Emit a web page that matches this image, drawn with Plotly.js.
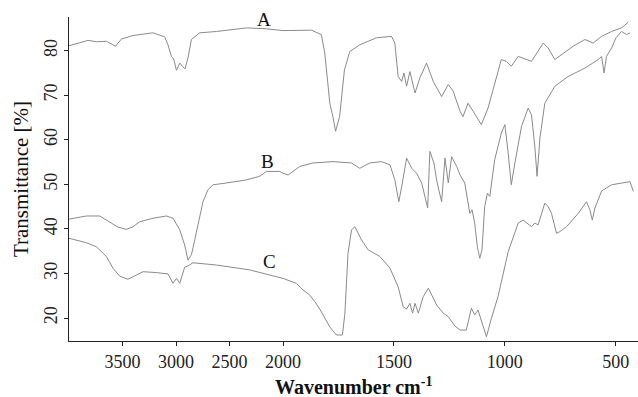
<!DOCTYPE html>
<html><head><meta charset="utf-8">
<script src="https://cdn.plot.ly/plotly-3.0.1.min.js"></script>
<style>html,body{margin:0;padding:0;background:#fff}#chart{width:638px;height:397px}</style>
</head><body><div id="chart"></div>
<script>
// Wavenumber (cm-1) and transmittance (%)
const aWn = [4000,3869,3822,3744,3650,3566,3510,3402,3215,3106,3075,3043,3021,2996,2965,2940,2916,2888,2856,2778,2622,2342,2155,2000,
  1872,1827,1812,1798,1789,1775,1763,1745,1723,1699,1654,1578,1511,1496,1481,1465,1455,1443,1428,1405,1383,1353,1323,1285,1255,1233,
  1202,1189,1166,1143,1106,1076,1053,1016,993,971,940,880,827,805,775,745,692,639,602,564,519,474,444];
const aT  = [81.1,81.9,82.3,82.0,82.1,81.0,82.6,83.4,84.0,83.1,81.3,78.7,78.1,75.6,77.2,76.5,75.9,78.4,82.5,84.0,84.3,85.1,84.9,84.5,
  84.6,83.6,79.5,72.7,68.2,65.2,61.9,65.2,75.7,79.8,81.3,82.9,83.2,81.7,74.2,73.1,75.0,72.0,75.3,70.5,73.9,77.2,73.1,69.7,72.4,70.9,
  66.4,65.2,68.2,66.4,63.4,67.1,71.2,78.0,77.6,76.5,78.7,77.6,81.7,80.6,78.0,79.1,81.0,82.5,81.7,83.2,84.3,85.1,86.4];

const bWn = [4000,3837,3713,3620,3542,3464,3402,3339,3215,3090,3028,2965,2919,2888,2856,2825,2778,2748,2701,2654,2529,2342,2218,2155,2031,2000,
  1977,1925,1865,1774,1691,1654,1609,1556,1518,1496,1478,1465,1443,1420,1398,1375,1348,1338,1320,1305,1285,1270,1255,1240,1217,1202,
  1181,1158,1148,1136,1124,1113,1103,1091,1079,1068,1046,1016,1000,985,971,955,925,895,880,865,855,842,820,775,715,639,579,564,553,
  542,519,499,474,451,436];
const bT  = [42.2,42.9,42.9,41.6,40.4,39.9,40.5,41.6,42.4,42.9,42.4,39.8,36.4,33.0,34.2,37.5,42.8,46.1,48.8,49.9,50.3,51.0,51.8,52.9,52.9,52.5,
  52.1,54.0,54.8,55.1,54.8,53.6,54.8,55.1,54.4,51.0,46.1,49.5,55.9,53.6,52.5,50.3,44.7,57.4,54.8,50.3,46.1,55.9,50.3,56.2,54.0,52.1,
  50.3,43.5,44.3,41.3,36.0,33.4,35.3,45.0,48.0,47.3,55.5,61.5,63.4,57.0,49.9,54.8,63.0,67.1,65.6,58.5,51.8,60.4,68.2,72.0,74.2,76.1,78.0,78.7,75.0,
  78.7,80.6,82.9,84.3,83.6,84.0];

const cWn = [4000,3837,3744,3650,3589,3526,3449,3402,3308,3183,3075,3028,2996,2965,2940,2919,2888,2841,2622,2311,2000,
  1940,1910,1880,1857,1834,1789,1759,1732,1721,1707,1691,1676,1646,1616,1563,1518,1481,1458,1443,1428,1416,1405,1390,1368,1345,
  1307,1278,1255,1225,1202,1174,1151,1136,1121,1106,1083,1061,1031,985,940,918,880,865,850,820,805,790,767,752,722,669,632,617,
  606,594,564,519,459,436,421];
const cT  = [37.9,36.9,36.0,33.8,31.2,29.4,28.7,29.3,30.4,30.2,29.9,27.8,28.9,27.8,30.0,31.4,31.7,32.4,31.9,30.8,28.9,
  27.8,26.3,25.2,23.7,22.0,18.0,16.2,16.2,21.1,34.5,39.8,40.5,37.5,35.3,33.8,31.2,27.0,22.5,22.0,23.3,21.1,23.3,21.1,24.8,26.7,
  22.9,21.1,20.3,18.2,17.3,17.3,22.2,20.7,21.8,19.6,15.8,19.9,24.8,34.9,41.3,42.0,40.5,41.3,40.9,45.8,45.0,43.5,39.0,39.4,40.5,43.5,46.1,44.3,
  42.0,44.7,48.5,49.9,50.4,50.6,48.4];

const seriesNames = ['A','B','C'];
const labelWn = [2176, 2148, 2124];
const labelT  = [86.9, 55.2, 32.7];

const upperTicks = [3500, 3000, 2500, 2000];
const lowerTicks = [1500, 1000, 500];
const yTicks = [20, 30, 40, 50, 60, 70, 80];
const BREAK = 2000;

const FONT = 'Liberation Serif, Times New Roman, serif';
const LINE = '#8a8a8a';
const AX = '#222';

function split(wn, t, upper) {
  const x = [], y = [];
  for (let i = 0; i < wn.length; i++) {
    if ((upper && wn[i] >= BREAK) || (!upper && wn[i] <= BREAK)) { x.push(wn[i]); y.push(t[i]); }
  }
  return {x, y};
}

const all = [[aWn, aT], [bWn, bT], [cWn, cT]];
const traces = [];
all.forEach((s, k) => {
  [true, false].forEach(up => {
    const p = split(s[0], s[1], up);
    traces.push({x: p.x, y: p.y, type: 'scatter', mode: 'lines', name: seriesNames[k],
      xaxis: up ? 'x' : 'x2', yaxis: 'y', showlegend: false,
      line: {color: LINE, width: 1}, hoverinfo: 'skip'});
  });
});

const split0 = 0.3761;
const axBase = {
  ticks: 'outside', ticklen: 4, tickcolor: AX, tickwidth: 1,
  showline: true, linecolor: AX, linewidth: 1.2,
  showgrid: false, zeroline: false,
  tickfont: {family: FONT, size: 18, color: '#222'},
  tickmode: 'array', anchor: 'y'
};

const annotations = seriesNames.map((n, k) => ({
  x: labelWn[k], y: labelT[k], xref: 'x', yref: 'y', text: n, showarrow: false,
  font: {family: FONT, size: 19, color: '#111'}, xanchor: 'center', yanchor: 'middle'
}));
annotations.push({
  x: 0.5, y: -0.14, xref: 'paper', yref: 'paper', showarrow: false,
  text: '<b>Wavenumber cm<sup>-1</sup></b>', xanchor: 'center', yanchor: 'middle',
  font: {family: FONT, size: 20, color: '#111'}
});

const layout = {
  width: 638, height: 397,
  margin: {l: 69, r: 0, t: 17, b: 56},
  paper_bgcolor: '#fff', plot_bgcolor: '#fff',
  showlegend: false,
  xaxis: Object.assign({}, axBase, {domain: [0, split0], range: [4000, BREAK], tickvals: upperTicks}),
  xaxis2: Object.assign({}, axBase, {domain: [split0, 1], range: [BREAK, 400], tickvals: lowerTicks}),
  yaxis: {
    range: [14.85, 87.55], tickmode: 'array', tickvals: yTicks, tickangle: -90,
    ticks: 'outside', ticklen: 4, tickcolor: AX, tickwidth: 1,
    showline: true, linecolor: AX, linewidth: 1.2, showgrid: false, zeroline: false,
    tickfont: {family: FONT, size: 18, color: '#222'},
    title: {text: 'Transmittance [%]', font: {family: FONT, size: 21, color: '#111'}, standoff: 6}
  },
  annotations: annotations
};

Plotly.newPlot('chart', traces, layout, {staticPlot: true, displayModeBar: false});
</script>
</body></html>
